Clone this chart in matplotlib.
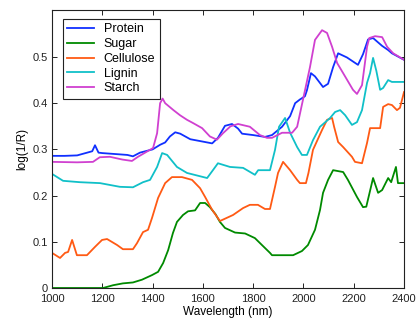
import matplotlib
matplotlib.use("Agg")
import matplotlib.pyplot as plt

plt.rcParams['font.family'] = ['Liberation Sans', 'DejaVu Sans']

# ---- data ----
protein_wl = [1000, 1050, 1100, 1140, 1160, 1171, 1185, 1200, 1250, 1300, 1322, 1350, 1400,
              1430, 1450, 1469, 1490, 1510, 1550, 1589, 1637, 1660, 1688, 1716, 1740, 1756,
              1800, 1847, 1875, 1915, 1947, 1967, 1986, 2006, 2014, 2030, 2046, 2078, 2098,
              2118, 2138, 2173, 2217, 2237, 2257, 2277, 2313, 2337, 2352, 2400]
protein = [0.286, 0.286, 0.287, 0.293, 0.296, 0.309, 0.293, 0.292, 0.290, 0.288, 0.285, 0.293, 0.300,
           0.310, 0.315, 0.328, 0.337, 0.334, 0.322, 0.318, 0.313, 0.325, 0.351, 0.355, 0.345, 0.334,
           0.331, 0.327, 0.331, 0.349, 0.372, 0.400, 0.408, 0.415, 0.428, 0.465, 0.458, 0.435, 0.442,
           0.478, 0.508, 0.499, 0.483, 0.506, 0.538, 0.541, 0.524, 0.515, 0.508, 0.494]

sugar_wl = [1000, 1100, 1203, 1243, 1282, 1322, 1358, 1398, 1422, 1442, 1462, 1481, 1497,
            1521, 1541, 1569, 1589, 1609, 1628, 1650, 1668, 1688, 1728, 1768, 1807, 1835,
            1867, 1875, 1959, 1994, 2018, 2046, 2066, 2078, 2098, 2118, 2158, 2177, 2213,
            2237, 2250, 2277, 2297, 2313, 2337, 2349, 2368, 2376, 2400]
sugar = [0.0, 0.0, 0.0, 0.006, 0.010, 0.012, 0.018, 0.028, 0.035, 0.054, 0.082, 0.119, 0.143,
         0.158, 0.166, 0.168, 0.184, 0.184, 0.175, 0.160, 0.143, 0.130, 0.120, 0.118, 0.108, 0.093,
         0.076, 0.071, 0.071, 0.080, 0.093, 0.126, 0.169, 0.206, 0.234, 0.255, 0.251, 0.234, 0.197,
         0.175, 0.176, 0.238, 0.206, 0.212, 0.238, 0.229, 0.262, 0.227, 0.227]

cellulose_wl = [1000, 1032, 1052, 1064, 1080, 1099, 1139, 1171, 1199, 1219, 1259, 1282, 1322,
                1338, 1362, 1382, 1398, 1422, 1450, 1477, 1517, 1557, 1589, 1609, 1636, 1668,
                1720, 1760, 1787, 1819, 1847, 1867, 1887, 1899, 1919, 1947, 1975, 1986, 2010,
                2020, 2038, 2074, 2094, 2114, 2122, 2138, 2158, 2193, 2205, 2233, 2253, 2265,
                2305, 2317, 2337, 2352, 2372, 2384, 2400]
cellulose = [0.076, 0.065, 0.076, 0.078, 0.104, 0.071, 0.071, 0.089, 0.104, 0.106, 0.093, 0.084, 0.084,
             0.097, 0.121, 0.126, 0.152, 0.195, 0.227, 0.240, 0.240, 0.234, 0.216, 0.197, 0.170, 0.145,
             0.158, 0.173, 0.180, 0.180, 0.171, 0.171, 0.219, 0.249, 0.273, 0.255, 0.234, 0.227, 0.227,
             0.249, 0.299, 0.342, 0.364, 0.368, 0.349, 0.316, 0.305, 0.284, 0.273, 0.270, 0.314, 0.346,
             0.346, 0.392, 0.398, 0.396, 0.385, 0.390, 0.424]

lignin_wl = [1000, 1044, 1111, 1191, 1270, 1322, 1362, 1390, 1418, 1438, 1458, 1497, 1537,
             1617, 1640, 1660, 1708, 1760, 1807, 1820, 1867, 1887, 1903, 1927, 1947, 1975,
             1994, 2014, 2038, 2066, 2106, 2126, 2146, 2166, 2193, 2213, 2233, 2253, 2265,
             2277, 2290, 2305, 2317, 2337, 2352, 2400]
lignin = [0.247, 0.232, 0.229, 0.227, 0.219, 0.218, 0.229, 0.234, 0.262, 0.292, 0.288, 0.262, 0.249,
          0.238, 0.255, 0.270, 0.262, 0.260, 0.245, 0.255, 0.255, 0.299, 0.349, 0.368, 0.336, 0.305,
          0.288, 0.288, 0.320, 0.349, 0.368, 0.381, 0.385, 0.374, 0.353, 0.359, 0.385, 0.444, 0.465,
          0.498, 0.470, 0.429, 0.433, 0.450, 0.446, 0.446]

starch_wl = [1000, 1100, 1163, 1190, 1230, 1280, 1318, 1342, 1402, 1418, 1430, 1440, 1450,
             1483, 1509, 1537, 1561, 1597, 1628, 1656, 1680, 1710, 1740, 1787, 1827, 1855,
             1875, 1915, 1955, 1975, 1998, 2026, 2046, 2074, 2094, 2114, 2134, 2158, 2197,
             2213, 2233, 2253, 2262, 2285, 2313, 2333, 2357, 2400]
starch = [0.273, 0.272, 0.273, 0.283, 0.284, 0.278, 0.275, 0.284, 0.303, 0.335, 0.400, 0.410, 0.400,
          0.385, 0.374, 0.364, 0.357, 0.346, 0.328, 0.321, 0.335, 0.350, 0.355, 0.349, 0.331, 0.325,
          0.325, 0.336, 0.336, 0.349, 0.407, 0.478, 0.537, 0.558, 0.552, 0.522, 0.487, 0.465, 0.429,
          0.420, 0.439, 0.522, 0.541, 0.545, 0.543, 0.522, 0.508, 0.494]

series = [
    ("Protein", protein_wl, protein, "#1030ff"),
    ("Sugar", sugar_wl, sugar, "#008a00"),
    ("Cellulose", cellulose_wl, cellulose, "#ff5a14"),
    ("Lignin", lignin_wl, lignin, "#10c0c8"),
    ("Starch", starch_wl, starch, "#d040d0"),
]

xticks = [1000, 1200, 1400, 1600, 1800, 2000, 2200, 2400]
yticks = [0, 0.1, 0.2, 0.3, 0.4, 0.5]
ytick_labels = ["0", "0.1", "0.2", "0.3", "0.4", "0.5"]

fig = plt.figure(figsize=(4.17, 3.23), dpi=100)
ax = fig.add_axes([52/417, 35/323, 352/417, 278/323])

for name, wl, vals, col in series:
    ax.plot(wl, vals, color=col, lw=1.3, label=name)

ax.set_xlim(1000, 2400)
ax.set_ylim(0, 0.6017)
ax.set_xticks(xticks)
ax.set_xticklabels([str(t) for t in xticks])
ax.set_yticks(yticks)
ax.set_yticklabels(ytick_labels)
ax.tick_params(direction='in', length=3.5, width=0.7, top=True, right=True,
               labelsize=8, colors='#222222')
ax.tick_params(axis='x', pad=4)
ax.tick_params(axis='y', pad=3)
for sp in ax.spines.values():
    sp.set_linewidth(0.8)
    sp.set_color('#222222')

ax.set_xlabel("Wavelength (nm)", fontsize=8.5, labelpad=2)
ax.set_ylabel("log(1/R)", fontsize=8.5, labelpad=3)

leg = ax.legend(loc='upper left', bbox_to_anchor=(11/352, 269/278), borderaxespad=0,
                fontsize=9, fancybox=False, edgecolor='#222222', framealpha=1,
                handlelength=2.1, handletextpad=0.8, labelspacing=0.22, borderpad=0.35)
leg.get_frame().set_linewidth(0.8)

fig.savefig("out.png", dpi=100)
